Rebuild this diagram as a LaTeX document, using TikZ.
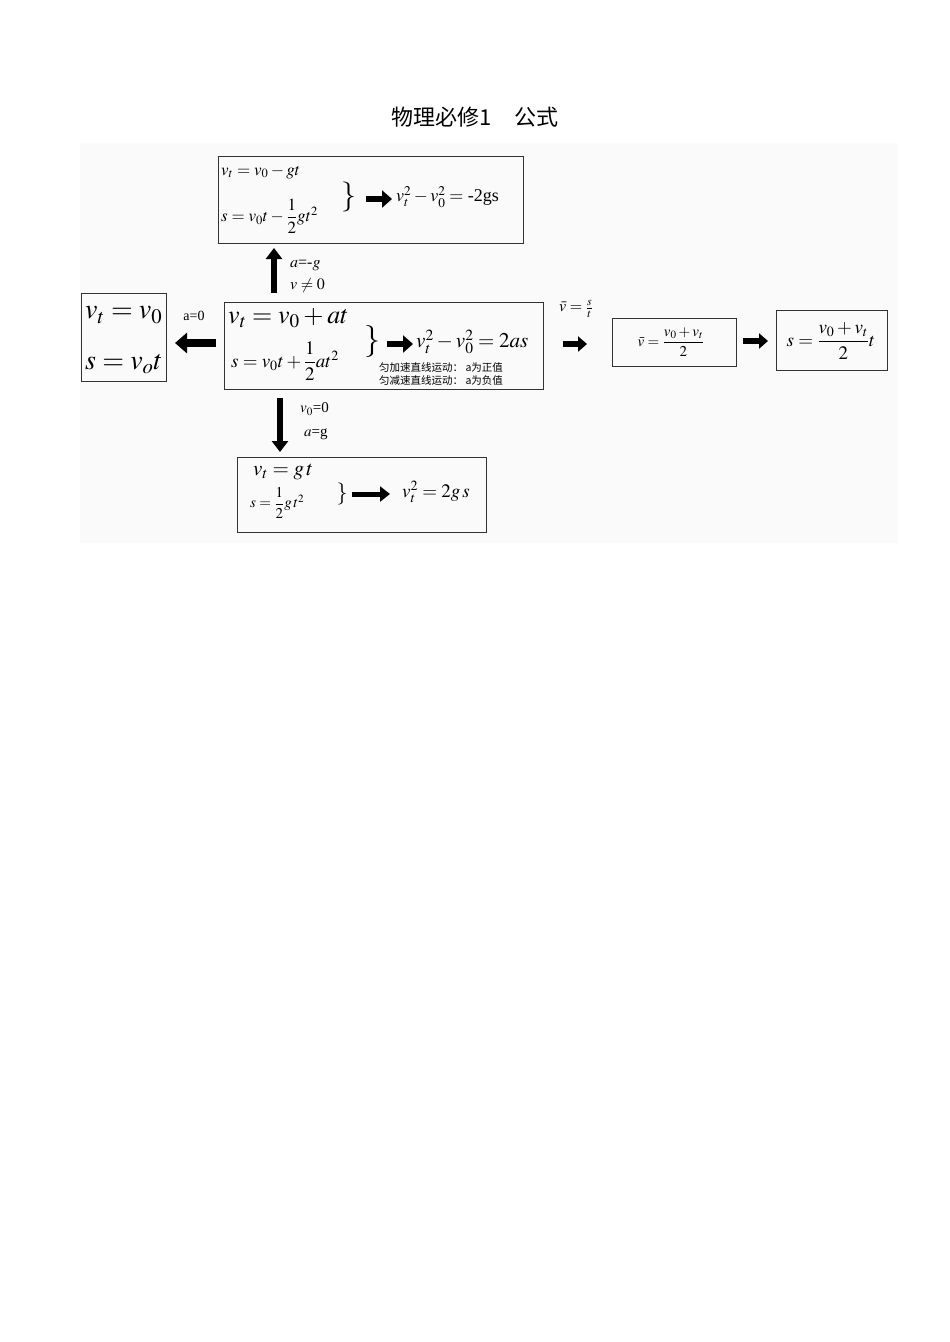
\documentclass[tikz,border=0pt]{standalone}
\usepackage{amsmath}
\usepackage{mathptmx}
\usepackage{fontspec}
\setmainfont{Liberation Serif}
\newfontfamily\cjk{Noto Sans CJK SC}
\usetikzlibrary{arrows.meta}
\tikzset{
  fbox/.style={draw=black!80,line width=0.8pt},
  txt/.style={inner sep=0pt},
}
\newcommand{\fs}[1]{\fontsize{#1}{#1}\selectfont}
\begin{document}
\begin{tikzpicture}[x=1pt,y=-1pt]
\useasboundingbox (0,0) rectangle (950,1342);
\fill[black!2] (80,143) rectangle (898,543);
\node[txt] (title) at (475,117) {\cjk\fs{22}物理必修1\quad 公式};
% boxes
\draw[fbox] (218,156) rectangle (523,243);
\draw[fbox] (81,293) rectangle (166,381);
\draw[fbox] (224,302) rectangle (543,389);
\draw[fbox] (612,318) rectangle (736,366);
\draw[fbox] (776,310) rectangle (887,370);
\draw[fbox] (237,457) rectangle (486,532);
% top box
\node[txt,anchor=west] (t1) at (221,172) {\fs{17}$v_t=v_0-gt$};
\node[txt,anchor=west] (t2) at (221,216) {\fs{17}$s=v_0t-\dfrac{1}{2}gt^2$};
\node[txt] (tb) at (349,197) {\fs{30}$\}$};
\coordinate (ta1) at (366,199); \coordinate (ta2) at (392,199);
\draw[line width=6pt,-{Triangle[length=10pt,width=17pt]}] (ta1) -- (ta2);
\node[txt,anchor=west] (t3) at (396,197) {\fs{18}$v_t^2-v_0^2=$ -2gs};
% center box
\node[txt,anchor=west] (c1) at (228,318) {\fs{26}$v_t=v_0+at$};
\node[txt,anchor=west] (c2) at (231,361) {\fs{19}$s=v_0t+\dfrac{1}{2}at^2$};
\node[txt] (cb) at (372,342) {\fs{32}$\}$};
\coordinate (ca1) at (387,344); \coordinate (ca2) at (413,344);
\draw[line width=6pt,-{Triangle[length=10pt,width=17pt]}] (ca1) -- (ca2);
\node[txt,anchor=west] (c3) at (416,342) {\fs{21}$v_t^2-v_0^2=2as$};
\node[txt,anchor=west] (c4) at (379,368) {\cjk\fs{10.5}匀加速直线运动： a为正值};
\node[txt,anchor=west] (c5) at (379,381) {\cjk\fs{10.5}匀减速直线运动： a为负值};
% left box
\node[txt,anchor=west] (l1) at (85,315) {\fs{28}$v_t=v_0$};
\node[txt,anchor=west] (l2) at (85,364) {\fs{28}$s=v_ot$};
% arrows between boxes
\coordinate (u1) at (274,293); \coordinate (u2) at (274,248);
\draw[line width=6pt,-{Triangle[length=11pt,width=16pt]}] (u1) -- (u2);
\node[txt,anchor=west] (ul) at (290,265) {\fs{16}$a$=-$g$};
\node[txt,anchor=west] (ul2) at (290,285) {\fs{16}$v\neq0$};
\coordinate (lft1) at (216,343); \coordinate (lft2) at (175,343);
\draw[line width=8pt,-{Triangle[length=12pt,width=20pt]}] (lft1) -- (lft2);
\node[txt] (ll) at (194,316) {\fs{14}a=0};
\coordinate (d1) at (280,398); \coordinate (d2) at (280,452);
\draw[line width=6pt,-{Triangle[length=11pt,width=16pt]}] (d1) -- (d2);
\node[txt,anchor=west] (dl) at (300,409) {\fs{15}$v_0$=0};
\node[txt,anchor=west] (dl2) at (304,434) {\fs{15}$a$=g};
% bottom box
\node[txt,anchor=west] (b1) at (253,472) {\fs{21}$v_t=g\,t$};
\node[txt,anchor=west] (b2) at (250,503) {\fs{15}$s=\dfrac{1}{2}g\,t^2$};
\node[txt] (bb) at (342,494) {\fs{22}$\}$};
\coordinate (ba1) at (352,494); \coordinate (ba2) at (390,494);
\draw[line width=5pt,-{Triangle[length=10pt,width=15pt]}] (ba1) -- (ba2);
\node[txt,anchor=west] (b3) at (402,492) {\fs{19}$v_t^2=2g\,s$};
% right side
\node[txt] (vb) at (576,309) {\fs{16}$\bar v=\frac{s}{t}$};
\coordinate (r1) at (563,344); \coordinate (r2) at (587,344);
\draw[line width=6pt,-{Triangle[length=9pt,width=15pt]}] (r1) -- (r2);
\node[txt] (m1) at (671,342) {\fs{15}$\bar v=\dfrac{v_0+v_t}{2}$};
\coordinate (r3) at (743,341); \coordinate (r4) at (768,341);
\draw[line width=6pt,-{Triangle[length=9pt,width=15pt]}] (r3) -- (r4);
\node[txt] (m2) at (831,341) {\fs{19}$s=\dfrac{v_0+v_t}{2}t$};
\end{tikzpicture}
\end{document}
